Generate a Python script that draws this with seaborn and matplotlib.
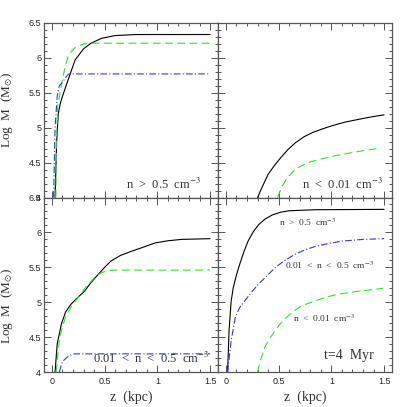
import numpy as np
import pandas as pd
import matplotlib
matplotlib.use("Agg")
import matplotlib.pyplot as plt
import seaborn as sns
from matplotlib.ticker import MultipleLocator

sns.set_theme(style="white")
plt.rcParams['font.family'] = ['Liberation Serif', 'DejaVu Serif']
plt.rcParams['mathtext.fontset'] = 'stix'

# ---------------- data ----------------
# Top-left panel: n > 0.5 cm^-3
tl_black_z = [0.03, 0.045, 0.06, 0.08, 0.10, 0.15, 0.22, 0.30, 0.37, 0.47, 0.60, 0.80, 1.50]
tl_black_m = [4.00, 4.80, 5.20, 5.35, 5.45, 5.67, 5.97, 6.13, 6.21, 6.28, 6.32, 6.335, 6.335]
tl_green_z = [0.038, 0.042, 0.055, 0.09, 0.13, 0.16, 0.22, 0.30, 0.40, 1.50]
tl_green_m = [4.00, 4.80, 5.30, 5.62, 5.90, 6.05, 6.15, 6.20, 6.21, 6.21]
tl_blue_z = [0.016, 0.03, 0.05, 0.07, 0.10, 0.13, 0.16, 1.50]
tl_blue_m = [4.00, 5.00, 5.45, 5.60, 5.65, 5.72, 5.77, 5.77]

# Top-right panel: n < 0.01 cm^-3
tr_black_z = [0.30, 0.35, 0.40, 0.46, 0.52, 0.59, 0.66, 0.74, 0.82, 0.91, 1.01, 1.13, 1.26, 1.38, 1.50]
tr_black_m = [4.00, 4.17, 4.33, 4.46, 4.57, 4.69, 4.785, 4.87, 4.93, 4.98, 5.03, 5.08, 5.12, 5.155, 5.185]
tr_green_z = [0.49, 0.53, 0.58, 0.63, 0.675, 0.74, 0.80, 0.90, 1.01, 1.13, 1.26, 1.47]
tr_green_m = [4.00, 4.15, 4.28, 4.36, 4.42, 4.47, 4.51, 4.55, 4.59, 4.625, 4.66, 4.71]

# Bottom-left panel: 0.01 < n < 0.5 cm^-3
bl_black_z = [0.03, 0.05, 0.09, 0.13, 0.18, 0.24, 0.31, 0.37, 0.44, 0.50, 0.56, 0.65, 0.755, 0.87, 0.98, 1.10, 1.23, 1.50]
bl_black_m = [4.00, 4.40, 4.69, 4.86, 4.97, 5.06, 5.16, 5.28, 5.40, 5.50, 5.59, 5.67, 5.73, 5.79, 5.85, 5.88, 5.90, 5.91]
bl_green_z = [0.04, 0.07, 0.10, 0.13, 0.18, 0.23, 0.325, 0.42, 0.48, 0.53, 0.60, 0.66, 1.50]
bl_green_m = [4.00, 4.45, 4.65, 4.79, 4.93, 5.03, 5.22, 5.38, 5.43, 5.45, 5.46, 5.46, 5.46]
bl_blue_z = [0.07, 0.10, 0.15, 0.20, 1.50]
bl_blue_m = [4.00, 4.15, 4.22, 4.26, 4.26]

# Bottom-right panel: t = 4 Myr
br_black_z = [0.016, 0.03, 0.05, 0.07, 0.10, 0.13, 0.17, 0.21, 0.26, 0.31, 0.37, 0.44, 0.52, 0.60, 0.85, 1.50]
br_black_m = [4.00, 4.60, 5.02, 5.21, 5.39, 5.54, 5.72, 5.875, 6.01, 6.11, 6.19, 6.25, 6.29, 6.31, 6.325, 6.33]
br_blue_z = [0.016, 0.05, 0.09, 0.13, 0.18, 0.24, 0.31, 0.39, 0.47, 0.56, 0.66, 0.75, 0.85, 0.97, 1.10, 1.30, 1.50]
br_blue_m = [4.00, 4.45, 4.79, 4.92, 5.02, 5.14, 5.26, 5.38, 5.50, 5.60, 5.69, 5.75, 5.80, 5.84, 5.875, 5.90, 5.91]
br_green_z = [0.30, 0.33, 0.37, 0.42, 0.47, 0.52, 0.58, 0.65, 0.72, 0.83, 0.945, 1.05, 1.17, 1.33, 1.49]
br_green_m = [4.00, 4.18, 4.36, 4.49, 4.60, 4.70, 4.79, 4.88, 4.95, 5.01, 5.07, 5.11, 5.14, 5.17, 5.20]

x_ticks = [0, 0.5, 1, 1.5]
x_ticklabels = ["0", "0.5", "1", "1.5"]
y_ticks = [4, 4.5, 5, 5.5, 6, 6.5]
y_ticklabels = ["4", "4.5", "5", "5.5", "6", "6.5"]

# ---------------- styles ----------------
BLACK = dict(color="black", linestyle="-", lw=0.8)
GREEN = dict(color="#22ee22", dashes=(7, 4), lw=0.8)
BLUE = dict(color="#3333ff", dashes=(6, 2, 1, 2), lw=0.8)

fig, axes = plt.subplots(2, 2, figsize=(4.07, 4.07), dpi=100, sharex=True, sharey=True)
fig.subplots_adjust(left=44/407, right=392/407, top=1-23/407, bottom=1-372/407,
                    wspace=0, hspace=0)
fig.patch.set_facecolor("white")

def draw(ax, z, m, style):
    kw = dict(style)
    dashes = kw.pop("dashes", None)
    sns.lineplot(x=z, y=m, ax=ax, sort=False, estimator=None, **kw)
    if dashes is not None:
        ax.lines[-1].set_dashes(dashes)

ax_tl, ax_tr = axes[0]
ax_bl, ax_br = axes[1]

draw(ax_tl, tl_black_z, tl_black_m, BLACK)
draw(ax_tl, tl_green_z, tl_green_m, GREEN)
draw(ax_tl, tl_blue_z, tl_blue_m, BLUE)

draw(ax_tr, tr_black_z, tr_black_m, BLACK)
draw(ax_tr, tr_green_z, tr_green_m, GREEN)

draw(ax_bl, bl_black_z, bl_black_m, BLACK)
draw(ax_bl, bl_green_z, bl_green_m, GREEN)
draw(ax_bl, bl_blue_z, bl_blue_m, BLUE)

draw(ax_br, br_black_z, br_black_m, BLACK)
draw(ax_br, br_blue_z, br_blue_m, BLUE)
draw(ax_br, br_green_z, br_green_m, GREEN)

spine_col = "#555555"
for ax in axes.flat:
    ax.set_xlim(-0.075, 1.575)
    ax.set_ylim(4, 6.5)
    ax.set_xticks(x_ticks)
    ax.set_yticks(y_ticks)
    ax.xaxis.set_minor_locator(MultipleLocator(0.1))
    ax.yaxis.set_minor_locator(MultipleLocator(0.1))
    ax.tick_params(which="both", direction="in", top=True, right=True,
                   bottom=True, left=True, color=spine_col, width=0.7)
    ax.tick_params(which="major", length=5)
    ax.tick_params(which="minor", length=2.5)
    for s in ax.spines.values():
        s.set_color(spine_col)
        s.set_linewidth(0.9)
    ax.set_xlabel("")
    ax.set_ylabel("")
    ax.set_facecolor("white")
    ax.grid(False)

for ax in (ax_tl, ax_bl):
    ax.set_yticklabels(y_ticklabels, fontfamily="Liberation Sans", fontsize=6.5)
    ax.tick_params(axis="y", labelleft=True, pad=2)
for ax in (ax_bl, ax_br):
    ax.set_xticklabels(x_ticklabels, fontfamily="Liberation Sans", fontsize=6.5)
    ax.tick_params(axis="x", labelbottom=True, pad=3.5)
for ax in (ax_tr, ax_br):
    ax.tick_params(axis="y", labelleft=False)
for ax in (ax_tl, ax_tr):
    ax.tick_params(axis="x", labelbottom=False)

lab_col = "#333333"
ax_tl.set_ylabel(r"Log  M  (M$_{\odot}$)", fontsize=9.5, color=lab_col)
ax_tl.yaxis.set_label_coords(-0.165, 0.5)
ax_bl.set_ylabel(r"Log  M  (M$_{\odot}$)", fontsize=9.5, color=lab_col)
ax_bl.yaxis.set_label_coords(-0.165, 0.38)
for ax in (ax_bl, ax_br):
    ax.set_xlabel("z  (kpc)", fontsize=10, color=lab_col)
    ax.xaxis.set_label_coords(0.5, -0.105)

big = 9
ax_tl.text(0.9, 0.075, r"n  >  0.5  cm$^{-3}$", transform=ax_tl.transAxes,
           ha="right", va="center", fontsize=big, color=lab_col)
ax_tr.text(0.95, 0.075, r"n  <  0.01  cm$^{-3}$", transform=ax_tr.transAxes,
           ha="right", va="center", fontsize=big, color=lab_col)
ax_bl.text(0.948, 0.08, r"0.01  <  n  <  0.5  cm$^{-3}$", transform=ax_bl.transAxes,
           ha="right", va="center", fontsize=big, color=lab_col)

small = 6.8
ax_br.text(0.517, 0.86, r"n  >  0.5  cm$^{-3}$", transform=ax_br.transAxes,
           ha="center", va="center", fontsize=small, color=lab_col)
ax_br.text(0.643, 0.614, r"0.01  <  n  <  0.5  cm$^{-3}$", transform=ax_br.transAxes,
           ha="center", va="center", fontsize=small, color=lab_col)
ax_br.text(0.609, 0.309, r"n  <  0.01  cm$^{-3}$", transform=ax_br.transAxes,
           ha="center", va="center", fontsize=small, color=lab_col)
ax_br.text(0.751, 0.093, r"t=4  Myr", transform=ax_br.transAxes,
           ha="center", va="center", fontsize=10, color=lab_col)

fig.savefig("out.png", dpi=100, facecolor="white")
